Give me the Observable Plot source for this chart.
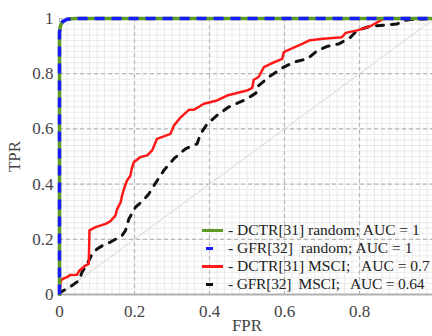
<!DOCTYPE html>
<html>
<head>
<meta charset="utf-8">
<script src="https://cdn.jsdelivr.net/npm/d3@7"></script>
<script src="https://cdn.jsdelivr.net/npm/@observablehq/plot@0.6"></script>
<style>
  html, body { margin: 0; padding: 0; background: white; overflow: hidden; }
  #wrap { position: relative; width: 432px; height: 336px; }
  #wrap svg, #wrap svg text { font-family: "Liberation Serif", "Times New Roman", serif !important; }
  #legend { position: absolute; left: 0; top: 0; width: 432px; height: 336px; pointer-events: none;
            font-family: "Liberation Serif", "Times New Roman", serif; font-size: 15.5px; color: #222; }
  .row { position: absolute; height: 18px; line-height: 18px; white-space: pre; }
  .swatch { position: absolute; height: 3px; }
</style>
</head>
<body>
<div id="wrap"><div id="legend"></div></div>
<script>
// ---- data ----
const majorTicks = [0, 0.2, 0.4, 0.6, 0.8, 1];
const tickLabels = ["0", "0.2", "0.4", "0.6", "0.8", "1"];
// the x = 1 label falls outside the visible picture in the original
const xAxisTicks = [0, 0.2, 0.4, 0.6, 0.8];

const diagFpr = [0, 1];
const diagTpr = [0, 1];

// DCTR[31] random & GFR[32] random (same curve)
const randFpr = [0, 0, 0.003, 0.008, 0.02, 0.04, 1];
const randTpr = [0, 0.95, 0.975, 0.988, 0.997, 1, 1];

// DCTR[31] MSCI
const dctrFpr = [0, 0.003, 0.009, 0.02, 0.029, 0.047, 0.052, 0.069, 0.078, 0.08, 0.096, 0.123, 0.136, 0.149, 0.154, 0.163, 0.167, 0.172, 0.18, 0.189, 0.193, 0.198, 0.216, 0.234, 0.247, 0.26, 0.296, 0.305, 0.323, 0.345, 0.358, 0.385, 0.42, 0.447, 0.5, 0.514, 0.518, 0.531, 0.545, 0.563, 0.594, 0.598, 0.611, 0.647, 0.665, 0.696, 0.753, 0.763, 0.794, 0.829, 0.847, 0.86, 0.869, 1];
const dctrTpr = [0, 0.05, 0.057, 0.063, 0.071, 0.072, 0.085, 0.105, 0.111, 0.232, 0.244, 0.256, 0.266, 0.286, 0.31, 0.334, 0.359, 0.383, 0.413, 0.43, 0.457, 0.479, 0.498, 0.504, 0.522, 0.564, 0.582, 0.612, 0.642, 0.669, 0.669, 0.691, 0.703, 0.721, 0.739, 0.749, 0.778, 0.788, 0.824, 0.836, 0.854, 0.878, 0.886, 0.908, 0.92, 0.926, 0.932, 0.948, 0.957, 0.972, 0.986, 0.996, 1, 1];

// GFR[32] MSCI
const gfrFpr = [0, 0.003, 0.034, 0.052, 0.06, 0.074, 0.087, 0.1, 0.123, 0.136, 0.167, 0.176, 0.185, 0.203, 0.221, 0.238, 0.252, 0.278, 0.305, 0.336, 0.367, 0.376, 0.394, 0.42, 0.451, 0.5, 0.527, 0.531, 0.563, 0.598, 0.625, 0.661, 0.688, 0.714, 0.745, 0.776, 0.794, 0.829, 0.856, 0.9, 0.918, 0.936, 1];
const gfrTpr = [0, 0.008, 0.033, 0.051, 0.081, 0.111, 0.147, 0.165, 0.184, 0.19, 0.214, 0.232, 0.274, 0.317, 0.338, 0.364, 0.395, 0.449, 0.492, 0.528, 0.546, 0.582, 0.618, 0.649, 0.679, 0.709, 0.733, 0.757, 0.793, 0.824, 0.842, 0.854, 0.884, 0.899, 0.908, 0.932, 0.957, 0.972, 0.975, 0.98, 0.993, 0.996, 1];

const legendLabels = [
  "- DCTR[31] random; AUC = 1",
  "- GFR[32]  random; AUC = 1",
  "- DCTR[31] MSCI;   AUC = 0.7",
  "- GFR[32]  MSCI;   AUC = 0.64"
];
const legendColors = ["#5f9a22", "#1a1aff", "#ff1a1a", "#111111"];

const pts = (xs, ys) => xs.map((x, i) => ({x, y: ys[i]}));
const minorTicks = d3.ticks(0, 1, 50);
const fmt = (d) => tickLabels[majorTicks.indexOf(d)];
const serif = "Liberation Serif, Times New Roman, serif";

const chart = Plot.plot({
  width: 432, height: 336,
  marginLeft: 59, marginRight: -2, marginTop: 18, marginBottom: 42,
  x: {domain: [0, 1]},
  y: {domain: [0, 1]},
  style: {fontFamily: serif, fontSize: "17px", color: "#444", background: "white", overflow: "visible"},
  marks: [
    Plot.gridX({ticks: minorTicks, stroke: "#e6e6e6", strokeOpacity: 1, strokeWidth: 0.8}),
    Plot.gridY({ticks: minorTicks, stroke: "#e6e6e6", strokeOpacity: 1, strokeWidth: 0.8}),
    Plot.gridX({ticks: majorTicks, stroke: "#b8b8b8", strokeOpacity: 1, strokeWidth: 1.2, strokeDasharray: "4,3"}),
    Plot.gridY({ticks: majorTicks, stroke: "#b8b8b8", strokeOpacity: 1, strokeWidth: 1.2, strokeDasharray: "4,3"}),
    Plot.line(pts(diagFpr, diagTpr), {x: "x", y: "y", stroke: "#d6d6d6", strokeWidth: 1}),
    Plot.ruleY([0], {stroke: "#b0b0b0", strokeWidth: 2}),
    Plot.axisX({ticks: xAxisTicks, tickSize: 0, tickPadding: 10, tickFormat: fmt, fontFamily: serif,
      fontSize: 17, label: "FPR", labelAnchor: "center", labelOffset: 36, labelArrow: "none"}),
    Plot.axisY({ticks: majorTicks, tickSize: 0, tickPadding: 6, tickFormat: fmt, fontFamily: serif,
      fontSize: 17, label: "TPR", labelAnchor: "center", labelOffset: 52, labelArrow: "none"}),
    Plot.line(pts(gfrFpr, gfrTpr), {x: "x", y: "y", stroke: "#111", strokeWidth: 3, strokeDasharray: "7,8", strokeLinecap: "round"}),
    Plot.line(pts(dctrFpr, dctrTpr), {x: "x", y: "y", stroke: "#ff1a1a", strokeWidth: 2.5}),
    Plot.line(pts(randFpr, randTpr), {x: "x", y: "y", stroke: "#5f9a22", strokeWidth: 3.5}),
    Plot.line(pts(randFpr, randTpr), {x: "x", y: "y", stroke: "#1a1aff", strokeWidth: 3.5, strokeDasharray: "10,7", strokeLinecap: "butt"})
  ]
});
document.getElementById("wrap").prepend(chart);

// legend overlay (transparent, like the original)
const legend = document.getElementById("legend");
const rowCenters = [230, 248, 266, 284];
legendLabels.forEach((lab, i) => {
  const sw = document.createElement("div");
  sw.className = "swatch";
  const short = (i === 1 || i === 3);
  sw.style.left = (short ? 206 : 202) + "px";
  sw.style.width = (short ? 7 : 21) + "px";
  sw.style.top = (rowCenters[i] - 1.5) + "px";
  sw.style.background = legendColors[i];
  legend.appendChild(sw);
  const row = document.createElement("div");
  row.className = "row";
  row.style.left = "228px";
  row.style.top = (rowCenters[i] - 9) + "px";
  if (i === 3) row.style.letterSpacing = "-0.2px";
  row.textContent = lab;
  legend.appendChild(row);
});
</script>
</body>
</html>
